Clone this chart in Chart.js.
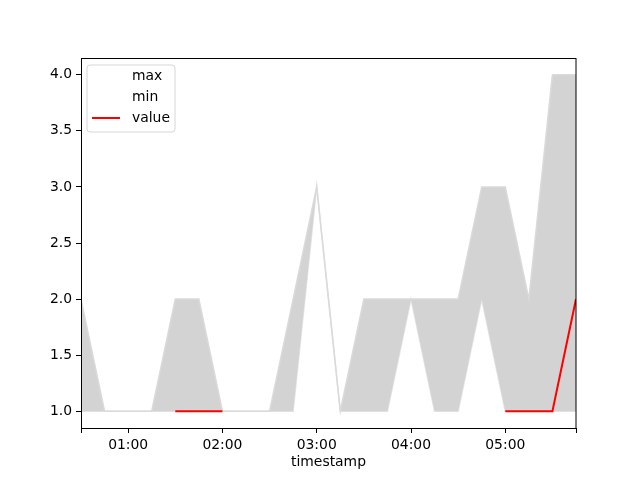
<!DOCTYPE html>
<html>
<head>
<meta charset="utf-8">
<script src="https://cdn.jsdelivr.net/npm/chart.js@4/dist/chart.umd.min.js"></script>
<style>
html,body{margin:0;padding:0;background:#fff;}
#wrap{width:640px;height:480px;}
</style>
</head>
<body>
<div id="wrap"><canvas id="c" width="640" height="480"></canvas></div>
<script>
// timestamps as minutes since midnight (15-minute steps, 00:30 .. 05:45)
const timestamps = [30,45,60,75,90,105,120,135,150,165,180,195,210,225,240,255,270,285,300,315,330,345];
const maxValues  = [2,1,1,1,2,2,1,1,1,2,3,1,2,2,2,2,2,3,3,2,4,4];
const minValues  = [1,1,1,1,1,1,1,1,1,1,3,1,1,1,2,1,1,2,1,1,1,1];
const valueSeries= [null,null,null,null,1,1,1,null,null,null,null,null,null,null,null,null,null,null,1,1,1,2];
const xTickMinutes = [60,120,180,240,300];
const yTicks = [1.0,1.5,2.0,2.5,3.0,3.5,4.0];
const legendLabels = ['max','min','value'];

const FONT = 'DejaVu Sans';
const FS = 13.9;

function pts(arr){ return timestamps.map((t,i)=>({x:t,y:arr[i]})); }
function fmt(m){ const h=Math.floor(m/60), mm=m%60; return String(h).padStart(2,'0')+':'+String(mm).padStart(2,'0'); }

const frame = {
  id:'frame',
  afterDatasetsDraw(chart){
    const a=chart.chartArea, ctx=chart.ctx;
    ctx.save();
    ctx.strokeStyle='#000'; ctx.lineWidth=1;
    ctx.strokeRect(Math.round(a.left)+0.5, Math.round(a.top)+0.5, Math.round(a.right-a.left)-1+0.5, Math.round(a.bottom-a.top));
    // legend
    const x0=a.left+6, y0=a.top+7, w=88, h=67;
    ctx.beginPath();
    const r=3;
    ctx.moveTo(x0+r,y0); ctx.lineTo(x0+w-r,y0); ctx.quadraticCurveTo(x0+w,y0,x0+w,y0+r);
    ctx.lineTo(x0+w,y0+h-r); ctx.quadraticCurveTo(x0+w,y0+h,x0+w-r,y0+h);
    ctx.lineTo(x0+r,y0+h); ctx.quadraticCurveTo(x0,y0+h,x0,y0+h-r);
    ctx.lineTo(x0,y0+r); ctx.quadraticCurveTo(x0,y0,x0+r,y0); ctx.closePath();
    ctx.fillStyle='rgba(255,255,255,0.8)'; ctx.fill();
    ctx.strokeStyle='#d6d6d6'; ctx.lineWidth=1; ctx.stroke();
    const colors=['#ffffff','#ffffff','#ff0000'];
    ctx.font = FS+'px "'+FONT+'"'; ctx.textBaseline='middle'; ctx.fillStyle='#000';
    for(let i=0;i<3;i++){
      const yy=y0+11+i*21;
      ctx.strokeStyle=colors[i]; ctx.lineWidth=2;
      ctx.beginPath(); ctx.moveTo(x0+5,yy); ctx.lineTo(x0+33,yy); ctx.stroke();
      ctx.fillStyle='#000'; ctx.fillText(legendLabels[i], x0+45, yy);
    }
    ctx.restore();
  }
};

new Chart(document.getElementById('c'), {
  type:'line',
  data:{
    datasets:[
      {label:'max', data:pts(maxValues), borderColor:'#dadada', borderWidth:1.5, backgroundColor:'#d3d3d3', fill:'+1', pointRadius:0, tension:0, order:2},
      {label:'min', data:pts(minValues), borderColor:'#e6e6e6', borderWidth:1.5, backgroundColor:'#d3d3d3', fill:false, pointRadius:0, tension:0, order:2},
      {label:'value', data:pts(valueSeries), borderColor:'#ff0000', borderWidth:2, fill:false, pointRadius:0, tension:0, spanGaps:false, order:1}
    ]
  },
  options:{
    responsive:false, animation:false,
    layout:{padding:{top:58,right:64,left:0,bottom:9}},
    plugins:{legend:{display:false}, tooltip:{enabled:false}},
    scales:{
      x:{
        type:'linear', min:30, max:345,
        afterBuildTicks(s){ s.ticks=[{value:30}].concat(xTickMinutes.map(v=>({value:v}))).concat([{value:345}]); },
        afterFit(s){ s.height=43; },
        ticks:{color:'#000', font:{family:FONT,size:FS}, padding:4, maxRotation:0, autoSkip:false,
          callback(v){ return xTickMinutes.includes(v)?fmt(v):''; }},
        grid:{display:true, drawOnChartArea:false, drawTicks:true, tickLength:5, tickColor:'#000', color:'#000'},
        border:{display:false},
        title:{display:true, text:'timestamp', color:'#000', font:{family:FONT,size:FS}, padding:{top:0,bottom:0}}
      },
      y:{
        type:'linear', min:0.85, max:4.15,
        afterBuildTicks(s){ s.ticks=yTicks.map(v=>({value:v})); },
        afterFit(s){ s.width=81; },
        ticks:{color:'#000', font:{family:FONT,size:FS}, padding:4, callback(v){ return v.toFixed(1); }},
        grid:{display:true, drawOnChartArea:false, drawTicks:true, tickLength:5, tickColor:'#000', color:'#000'},
        border:{display:false}
      }
    }
  },
  plugins:[frame]
});
</script>
</body>
</html>
